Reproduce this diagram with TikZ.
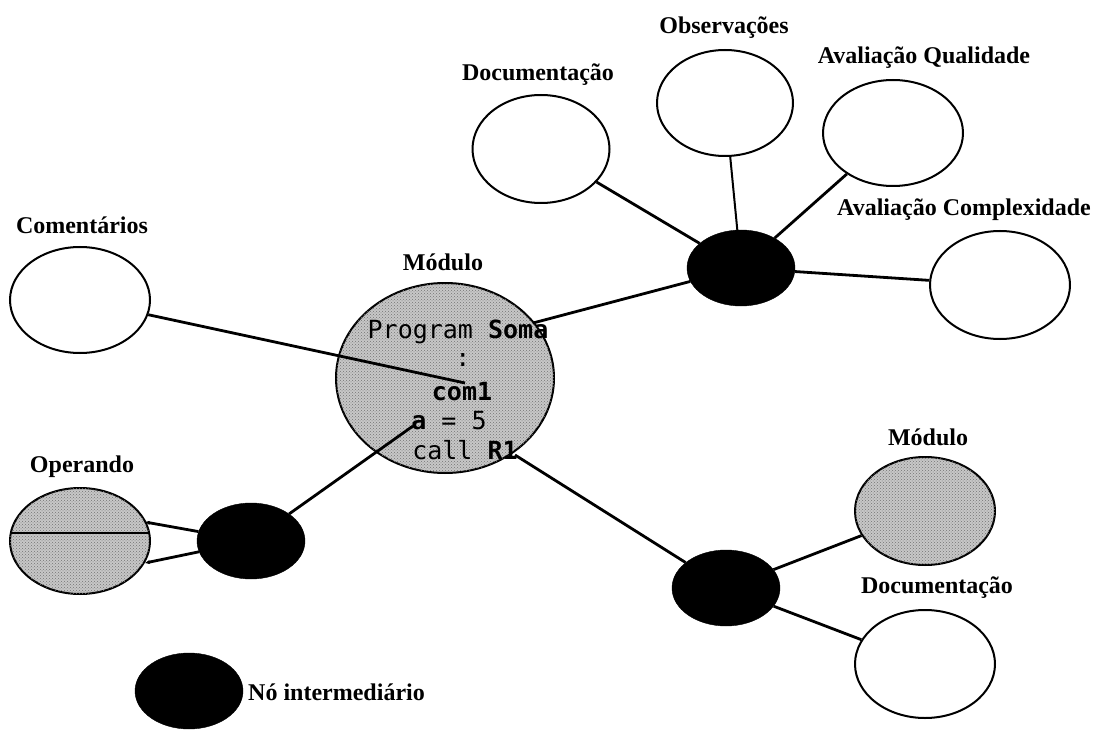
\documentclass[tikz,border=0pt]{standalone}
\usepackage{fontspec}
\setmainfont{Liberation Serif}
\newfontfamily\codefont{DejaVu Sans Mono}
\usetikzlibrary{shapes.geometric,arrows.meta,patterns}
\definecolor{stipple}{gray}{0.78}
\begin{document}
\begin{tikzpicture}[x=1pt,y=-1pt,
  oval/.style={ellipse,draw,line width=2pt,inner sep=0pt,
               minimum width=140pt,minimum height=106pt},
  shaded/.style={oval,fill=stipple,
                 postaction={pattern=crosshatch dots,pattern color=black!55}},
  hub/.style={ellipse,draw=black,fill=black,inner sep=0pt,
              minimum width=108pt,minimum height=76pt},
  tag/.style={font=\bfseries\fontsize{24}{26}\selectfont,inner sep=0pt},
  code/.style={font=\codefont\fontsize{25}{25}\selectfont,inner sep=0pt},
  link/.style={line width=2.8pt},
  thin link/.style={line width=2pt}]
\useasboundingbox (0,0) rectangle (1103,730);

% --- central module with its source lines ---
\node[shaded,minimum width=218pt,minimum height=190pt] (mod) at (445,378) {};
\node[tag] (modT) at (443,262) {Módulo};
\node[code] (l1) at (458,332) {Program \textbf{Soma}};
\node[code] (l2) at (463,360) {:};
\node[code] (l3) at (462,392) {\textbf{com1}};
\node[code] (l4) at (449,421) {\textbf{a} = 5};
\node[code] (l5) at (465,450) {call \textbf{R1}};
\coordinate (pSoma) at (533,323);
\coordinate (pCom) at (465,383);
\coordinate (pA) at (413,426);
\coordinate (pR) at (515,455);

% --- comments ---
\node[oval] (com) at (80,300) {};
\node[tag] (comT) at (82,225) {Comentários};

% --- upper cluster ---
\node[hub] (n1) at (741,268) {};
\node[oval,minimum width=137pt,minimum height=108pt] (doc1) at (541,149) {};
\node[tag] (doc1T) at (538,75) {Documentação};
\node[oval,minimum width=136pt,minimum height=106pt] (obs) at (725,103) {};
\node[tag] (obsT) at (724,28) {Observações};
\node[oval] (aq) at (893,133) {};
\node[tag] (aqT) at (924,58) {Avaliação Qualidade};
\node[oval,minimum height=108pt] (ac) at (1000,285) {};
\node[tag] (acT) at (964,210) {Avaliação Complexidade};

% --- lower right cluster ---
\node[hub] (n2) at (726,588) {};
\node[shaded,minimum height=108pt] (mod2) at (925,511) {};
\node[tag] (mod2T) at (928,437) {Módulo};
\node[oval,minimum height=108pt] (doc2) at (925,664) {};
\node[tag] (doc2T) at (937,588) {Documentação};

% --- operand ---
\node[hub] (n3) at (251,541) {};
\node[shaded] (opr) at (80,541) {};
\node[tag] (oprT) at (82,467) {Operando};
\begin{scope}
  \clip (80,541) ellipse [x radius=70pt,y radius=53pt];
  \draw[line width=2pt] (0,533) -- (160,533);
\end{scope}
\coordinate (opA) at (145,522);
\coordinate (opB) at (145,563);

% --- legend ---
\node[hub] (n4) at (189,691) {};
\node[tag,anchor=west] (n4T) at (248,692) {Nó intermediário};

% --- connectors ---
\draw[link] (com) -- (pCom);
\draw[link] (pSoma) -- (n1);
\draw[link] (pA) -- (n3);
\draw[link] (pR) -- (n2);
\draw[link] (doc1) -- (n1);
\draw[thin link] (obs) -- (n1);
\draw[link] (aq) -- (n1);
\draw[link] (n1) -- (ac);
\draw[link] (n2) -- (mod2);
\draw[link] (n2) -- (doc2);
\draw[link,-{Stealth[length=5pt,width=4pt]}] (n3) -- (opA);
\draw[link,-{Stealth[length=5pt,width=4pt]}] (n3) -- (opB);
\end{tikzpicture}
\end{document}
